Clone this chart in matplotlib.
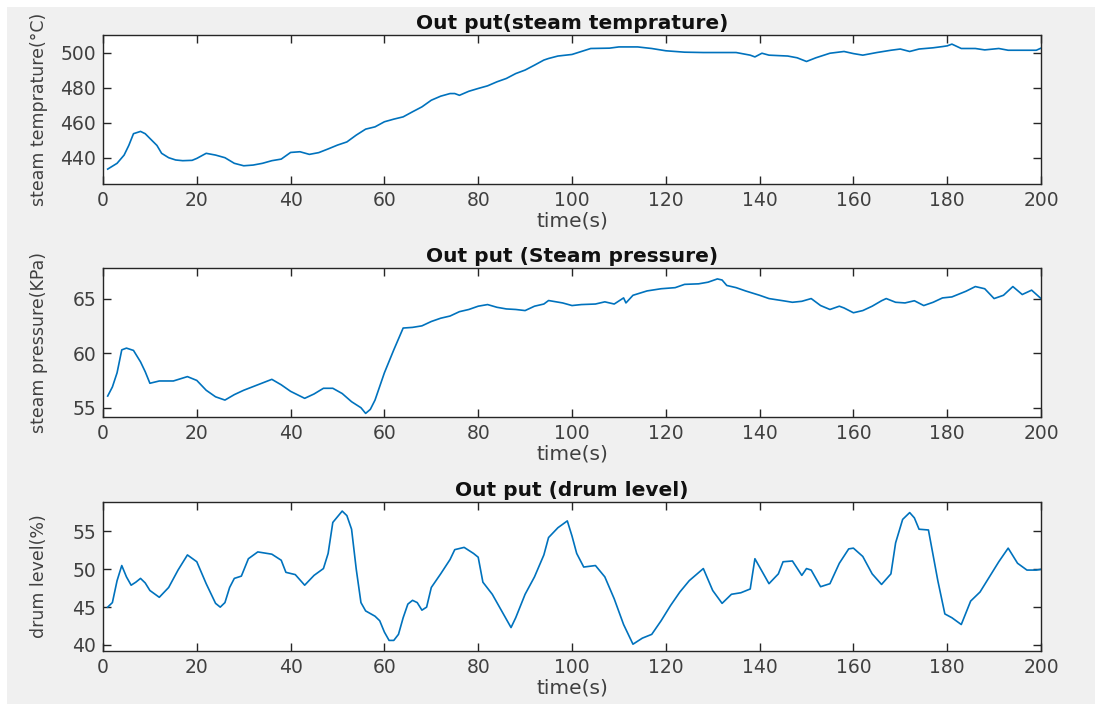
# Boiler simulation outputs: steam temperature, steam pressure and drum level
import matplotlib.pyplot as plt
from matplotlib.patches import Rectangle

# steam temperature (°C)
t_temp = [1, 3, 4.5, 5.5, 6.5, 8, 9, 10, 11.5, 12.5, 14, 15.5, 17, 19, 20, 22, 24, 26,
          28, 30, 32, 34, 36, 38, 40, 42, 44, 46, 48, 50, 52, 54, 56, 58, 60, 62, 64,
          66, 68, 70, 72, 74, 75, 76, 78, 80, 82, 84, 86, 88, 90, 92, 94, 95, 97, 100,
          104, 108, 110, 114, 117, 120, 124, 128, 135, 138, 139, 140.5, 142, 146, 148,
          150, 152, 155, 158, 160, 162, 165, 168, 170, 172, 174, 177, 179, 180, 181,
          183, 186, 188, 191, 193, 196, 199, 200]
temp = [433.5, 436.8, 441.5, 447, 453.7, 455, 453.7, 451, 447, 442.5, 440, 438.7, 438.3,
        438.5, 439.6, 442.5, 441.5, 440, 436.8, 435.4, 435.8, 436.8, 438.3, 439.2, 443,
        443.4, 441.9, 442.9, 445, 447.2, 449, 452.9, 456.3, 457.6, 460.5, 462, 463.3,
        466.2, 469, 472.8, 475.1, 476.6, 476.6, 475.6, 477.9, 479.5, 481, 483.3, 485.2,
        488, 490, 492.8, 495.7, 496.6, 498, 498.9, 502.3, 502.5, 503.2, 503.2, 502.3,
        501, 500.2, 500, 500, 498.5, 497.5, 499.6, 498.5, 498, 497, 494.9, 497, 499.6,
        500.6, 499.4, 498.5, 500, 501.3, 502, 500.6, 502, 502.7, 503.4, 503.8, 504.8,
        502.3, 502.3, 501.5, 502.3, 501.3, 501.3, 501.3, 502.5]

# steam pressure (KPa)
t_pres = [1, 2, 3, 4, 5, 6.5, 8, 9, 10, 12, 15, 18, 20, 22, 24, 26, 28, 30, 33, 36, 38,
          40, 43, 45, 47, 49, 51, 53, 55, 56, 57, 58, 60, 62, 64, 66, 68, 70, 72, 74, 76,
          78, 80, 82, 84, 86, 88, 90, 92, 94, 95, 98, 100, 102, 105, 107, 109, 111,
          111.5, 113, 116, 119, 122, 124, 127, 129, 131, 132, 133, 135, 137, 140, 142,
          145, 147, 149, 151, 153, 155, 157, 158, 160, 162, 164, 166, 167, 169, 171,
          173, 175, 177, 179, 181, 184, 186, 188, 190, 192, 194, 196, 198, 200]
pres = [56.07, 56.9, 58.2, 60.3, 60.46, 60.25, 59.2, 58.3, 57.24, 57.45, 57.45, 57.85,
        57.5, 56.6, 56.0, 55.7, 56.2, 56.6, 57.1, 57.6, 57.1, 56.5, 55.86, 56.26, 56.78,
        56.78, 56.3, 55.55, 55.0, 54.48, 54.85, 55.7, 58.2, 60.3, 62.3, 62.36, 62.5,
        62.9, 63.2, 63.4, 63.8, 64.0, 64.3, 64.45, 64.2, 64.05, 64.0, 63.9, 64.3, 64.5,
        64.82, 64.6, 64.36, 64.45, 64.5, 64.7, 64.5, 65.06, 64.6, 65.3, 65.7, 65.9, 66.0,
        66.3, 66.35, 66.5, 66.8, 66.7, 66.2, 66.0, 65.7, 65.3, 65.0, 64.8, 64.66, 64.75,
        65.0, 64.36, 64.0, 64.3, 64.14, 63.7, 63.9, 64.3, 64.8, 65.0, 64.66, 64.6, 64.8,
        64.36, 64.66, 65.06, 65.15, 65.67, 66.1, 65.9, 65.0, 65.3, 66.1, 65.37, 65.77,
        65.0]

# drum level (%)
t_drum = [1, 2, 3, 4, 5, 6, 7, 8, 9, 10, 12, 14, 16, 18, 20, 22, 24, 25, 26, 27, 28,
          29.5, 31, 33, 36, 38, 39, 41, 43, 45, 47, 48, 49, 51, 52, 53, 54, 55, 56, 58,
          59, 60, 61, 62, 63, 64, 65, 66, 67, 68, 69, 70, 72, 74, 75, 77, 79, 80, 81,
          83, 85, 87, 88, 90, 92, 94, 95, 97, 99, 100, 101, 102.5, 105, 107, 109, 111,
          113, 115, 117, 119, 121, 123, 125, 128, 130, 132, 134, 136, 138, 139, 140,
          142, 144, 145, 147, 149, 150, 151, 153, 155, 157, 159, 160, 162, 164, 166,
          168, 169, 170.5, 172, 173, 174, 176, 178, 179.5, 181, 183, 185, 187, 189, 191,
          193, 195, 197, 199, 200]
drum = [45.0, 45.6, 48.5, 50.5, 49.0, 47.9, 48.3, 48.8, 48.2, 47.2, 46.3, 47.6, 49.9,
        51.9, 51.0, 48.1, 45.5, 45.0, 45.6, 47.6, 48.8, 49.1, 51.4, 52.3, 52.0, 51.2,
        49.6, 49.3, 47.9, 49.2, 50.1, 52.1, 56.2, 57.7, 57.1, 55.3, 50.0, 45.6, 44.5,
        43.8, 43.2, 41.7, 40.6, 40.6, 41.4, 43.6, 45.4, 45.9, 45.6, 44.6, 45.0, 47.6,
        49.4, 51.3, 52.6, 52.9, 52.1, 51.6, 48.3, 46.7, 44.5, 42.3, 43.6, 46.7, 49.0,
        51.9, 54.2, 55.5, 56.4, 54.4, 52.1, 50.3, 50.5, 49.0, 46.1, 42.7, 40.1, 40.9,
        41.4, 43.2, 45.2, 47.0, 48.5, 50.1, 47.2, 45.5, 46.7, 46.9, 47.4, 51.4, 50.3,
        48.1, 49.4, 51.0, 51.1, 49.2, 50.1, 49.9, 47.7, 48.1, 50.8, 52.7, 52.8, 51.7,
        49.4, 48.0, 49.4, 53.5, 56.6, 57.5, 56.8, 55.3, 55.2, 48.5, 44.1, 43.6, 42.7,
        45.8, 47.0, 49.0, 51.0, 52.8, 50.8, 49.9, 49.9, 50.0]

titles = ['Out put(steam temprature)', 'Out put (Steam pressure)', 'Out put (drum level)']
ylabels = ['steam temprature(°C)', 'steam pressure(KPa)', 'drum level(%)']
yticks = [[440, 460, 480, 500], [55, 60, 65], [40, 45, 50, 55]]
ylims = [(425, 510), (54.15, 67.8), (39.2, 58.9)]
xticks = list(range(0, 201, 20))

line_color = '#0072BD'
text_color = '#404040'

fig = plt.figure(figsize=(11.01, 7.11), dpi=100, facecolor='white')
# grey window background inside a thin white margin
fig.patches.append(Rectangle((7 / 1101, 7 / 711), 1088 / 1101, 697 / 711,
                             transform=fig.transFigure, facecolor='#f0f0f0',
                             edgecolor='none', zorder=-10))

left, width = 103 / 1101, 938 / 1101
bottoms = [1 - 184 / 711, 1 - 417 / 711, 1 - 651 / 711]
height = 149 / 711

series = [(t_temp, temp), (t_pres, pres), (t_drum, drum)]

for i in range(3):
    ax = fig.add_axes([left, bottoms[i], width, height])
    ax.set_facecolor('white')
    t, y = series[i]
    ax.plot(t, y, color=line_color, lw=1.2)

    ax.set_xlim(0, 200)
    ax.set_ylim(*ylims[i])
    ax.set_xticks(xticks)
    ax.set_yticks(yticks[i])

    ax.tick_params(direction='in', length=6, width=1, colors='#262626',
                   labelcolor=text_color, labelsize=13.5, pad=5,
                   top=True, right=True)
    for sp in ax.spines.values():
        sp.set_color('#262626')
        sp.set_linewidth(1)

    ax.set_title(titles[i], fontsize=14.5, fontweight='bold', color='#111111', pad=4)
    ax.set_xlabel('time(s)', fontsize=14.5, color=text_color, labelpad=1)
    ax.set_ylabel(ylabels[i], fontsize=12.5, color=text_color)
    ax.yaxis.set_label_coords(-0.059, 0.5)

fig.savefig('out.png', dpi=100)
